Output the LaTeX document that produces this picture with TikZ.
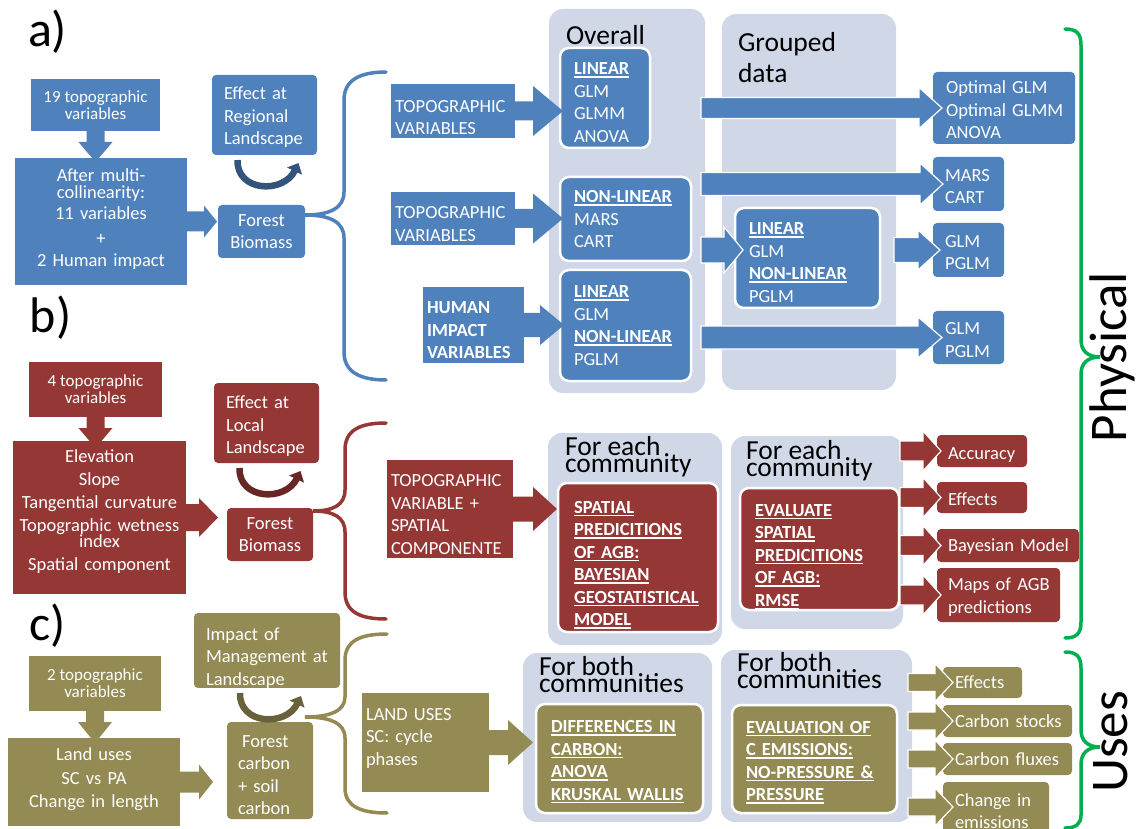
\documentclass[tikz,border=0pt]{standalone}
\usepackage{fontspec}
\setmainfont{Carlito}
\usetikzlibrary{calc,arrows.meta}

\definecolor{sblue}{HTML}{4F81BD}
\definecolor{sred}{HTML}{953735}
\definecolor{solive}{HTML}{948A54}
\definecolor{panelgray}{HTML}{D0D8E8}
\definecolor{bracegreen}{HTML}{00B050}

\newcommand\fsS{\fontsize{17}{17}\selectfont}
\newcommand\fsM{\fontsize{18.5}{22.5}\selectfont}
\newcommand\fsT{\fontsize{27.5}{17}\selectfont\lineskiplimit=-100pt}
\newcommand\fsL{\fontsize{50}{50}\selectfont}
\newcommand\fsXL{\fontsize{53}{53}\selectfont}

% bold heading with a thick underline
\newsavebox\hdbox
\newcommand\hd[1]{\leavevmode\sbox\hdbox{\textbf{#1}}\rlap{\rule[-3pt]{\wd\hdbox}{1.5pt}}\usebox\hdbox}
% invisible struts that set the height of a first line / the depth of a last line
\newcommand\tgap[1]{\rule{0pt}{#1}}
\newcommand\tlift[1]{\rule[-#1]{0pt}{#1}}

% box placed by its corners: style, name, x1, y1, x2, y2
\newcommand\bx[6]{\node[#1, minimum width={(#5)-(#3)}, minimum height={(#6)-(#4)}] (#2) at ({(#3+#5)/2},{(#4+#6)/2})}

% horizontal block arrow: style, tail, tip, shaft half width, head half width, head length
\newcommand\harrow[6]{\path[#1] let \p1=#2, \p2=#3 in
  (\x1,{\y2+#4pt}) -- ({\x2-#6pt},{\y2+#4pt}) -- ({\x2-#6pt},{\y2+#5pt}) -- (\x2,\y2)
  -- ({\x2-#6pt},{\y2-#5pt}) -- ({\x2-#6pt},{\y2-#4pt}) -- (\x1,{\y2-#4pt}) -- cycle;}

% downward block arrow: style, tail, tip, shaft half width, head half width, head length
\newcommand\varrow[6]{\path[#1] let \p1=#2, \p2=#3 in
  ({\x2-#4pt},\y1) -- ({\x2-#4pt},{\y2+#6pt}) -- ({\x2-#5pt},{\y2+#6pt}) -- (\x2,\y2)
  -- ({\x2+#5pt},{\y2+#6pt}) -- ({\x2+#4pt},{\y2+#6pt}) -- ({\x2+#4pt},\y1) -- cycle;}

% curved arrow under a box: colour, box name
\newcommand\loopunder[2]{\draw[loopback,#1] ($(#2.south)+(-27,5)$)
  .. controls ($(#2.south)+(-28,37)$) and ($(#2.south)+(19,39)$) .. ($(#2.south)+(34,8)$);}

\begin{document}
\begin{tikzpicture}[x=1pt,y=-1pt,
  every node/.style={inner sep=0pt, outer sep=0pt},
  blk/.style={rectangle, text=white, font=\fsM},
  rb/.style={blk, rounded corners=4pt},
  wb/.style={blk, rounded corners=9pt, draw=white, line width=2.5pt},
  pnl/.style={rectangle, fill=panelgray, rounded corners=14pt},
  ttl/.style={font=\fsT, align=left, text=black},
  lbl/.style={font=\fsL, text=black},
  side/.style={font=\fsXL, text=black, rotate=90},
  ol/.style={draw=white, line width=1.2pt},
  brace/.style={line width=3.5pt, line cap=round},
  loopback/.style={line width=6.5pt, -{Triangle[length=9pt,width=16pt]}},
]
\fill[white] (0,0) rectangle (1136,829);
\useasboundingbox (0,0) rectangle (1136,829);

% ---------- panels ----------
\bx{pnl}{ov}{549}{9}{705}{393}{};
\bx{pnl}{gr}{722}{14}{896}{390}{};
\bx{pnl}{pb1}{548}{433}{722}{645}{};
\bx{pnl}{pb2}{731}{436}{903}{629}{};
\bx{pnl}{pc1}{523}{653}{712}{822}{};
\bx{pnl}{pc2}{721}{650}{912}{822}{};
\node[ttl,anchor=base west] (tov) at (566,45) {Overall};
\node[ttl,font=\fontsize{27.5}{31}\selectfont,anchor=base west] (tgr) at (738,83) {Grouped\\data};
\node[ttl,anchor=base west] (tb1) at (565,472) {For each\\community};
\node[ttl,anchor=base west] (tb2) at (746,476) {For each\\community};
\node[ttl,anchor=base west] (tc1) at (539,692) {For both\\communities};
\node[ttl,anchor=base west] (tc2) at (737,688) {For both\\communities};

% ---------- a) regional ----------
\bx{blk,fill=sblue,font=\fsS,align=center}{b19}{31}{79}{160}{131}{19 topographic\\variables};
\bx{blk,fill=sblue,align=center,text width=168pt}{b11}{15}{158}{187}{285}{After multi-\\[-5.5pt]collinearity:\\[-1pt]11 variables\\[2pt]+\\[-0.5pt]2 Human impact\tlift{8pt}};
\bx{rb,fill=sblue,align=center}{fb}{218}{205}{305}{258}{Forest\\Biomass};
\bx{rb,fill=sblue,align=left,text width=81pt}{eff}{212}{75}{317}{155}{\tgap{17pt}Effect~at\\Regional\\Landscape};
\bx{blk,fill=sblue,align=left,text width=116pt}{topo1}{391}{84}{515}{138}{\tgap{25pt}TOPOGRAPHIC\\VARIABLES};
\bx{blk,fill=sblue,align=left,text width=116pt}{topo2}{391}{192}{515}{245}{\tgap{23pt}TOPOGRAPHIC\\VARIABLES};
\bx{blk,fill=sblue,align=left,text width=93pt,font=\fsM\bfseries}{human}{423}{287}{524}{363}{\tgap{23pt}HUMAN\\IMPACT\\VARIABLES};
\bx{wb,fill=sblue,align=left,text width=62pt}{lin1}{560}{48}{650}{148}{\tgap{21pt}\hd{LINEAR}\\GLM\\GLMM\\ANOVA};
\bx{wb,fill=sblue,align=left,text width=103pt}{nl1}{560}{177}{691}{261}{\hd{NON-LINEAR}\\MARS\\CART};
\bx{wb,fill=sblue,align=left,text width=103pt}{hl1}{560}{270}{691}{381}{\hd{LINEAR}\\GLM\\\hd{NON-LINEAR}\\PGLM};
\bx{wb,fill=sblue,align=left,text width=117pt}{gl}{735}{208}{880}{308}{\tgap{21pt}\hd{LINEAR}\\GLM\\\hd{NON-LINEAR}\\PGLM};
\bx{rb,fill=sblue,align=left,text width=116pt}{opt1}{933}{72}{1075}{144}{\tgap{17pt}Optimal~GLM\\Optimal~GLMM\\ANOVA};
\bx{rb,fill=sblue,align=left,text width=47pt}{mc}{933}{157}{1004}{211}{\tgap{17pt}MARS\\CART};
\bx{rb,fill=sblue,align=left,text width=47pt}{g1}{933}{223}{1004}{277}{\tgap{17pt}GLM\\PGLM};
\bx{rb,fill=sblue,align=left,text width=47pt}{g2}{933}{311}{1004}{364}{\tgap{17pt}GLM\\PGLM};

\coordinate (a1) at ($(b11.north)+(0,4)$);
\varrow{fill=sblue}{(b19.south)}{(b19.south |- a1)}{9}{17}{20}
\harrow{fill=sblue}{(b11.east)}{($(fb.west |- b11.east)+(-1,0)$)}{10}{16}{13}
\harrow{fill=sblue}{(topo1.east)}{($(lin1.west |- topo1.east)+(3,0)$)}{9.5}{25}{30}
\harrow{fill=sblue}{(topo2.east)}{($(nl1.west |- topo2.east)+(3,0)$)}{9.5}{25}{30}
\harrow{fill=sblue}{(human.east)}{($(hl1.west |- human.east)+(4,0)$)}{12}{20}{24}
\harrow{fill=sblue,ol}{($(ov.east |- opt1.west)+(-4,0)$)}{($(opt1.west)+(9,0)$)}{10.5}{20.5}{23}
\harrow{fill=sblue,ol}{($(ov.east |- mc.west)+(-4,0)$)}{($(mc.west)+(10,0)$)}{11.5}{21}{23}
\harrow{fill=sblue,ol}{($(ov.east |- gl.west)+(-4,-8)$)}{($(gl.west)+(8,-8)$)}{13}{23}{19}
\harrow{fill=sblue,ol}{($(gr.east |- g1.west)+(-2,0)$)}{($(g1.west)+(7,0)$)}{12.5}{20}{22}
\harrow{fill=sblue,ol}{($(ov.east |- g2.west)+(-4,0)$)}{($(g2.west)+(9,0)$)}{11.5}{20.5}{24}
\loopunder{sblue!65!black}{eff}
\draw[brace, sblue] (386,72) .. controls (360,72) and (344,80) .. (344,100) -- (344,192)
  .. controls (344,208) and (330,215) .. (305,215) .. controls (330,215) and (344,222) .. (344,238)
  -- (344,352) .. controls (344,372) and (360,380) .. (386,380);

% ---------- b) local ----------
\bx{blk,fill=sred,font=\fsS,align=center}{b4}{29}{362}{162}{417}{4 topographic\\variables};
\bx{blk,fill=sred,align=center,text width=170pt,font=\fontsize{18.5}{23}\selectfont}{elev}{13}{441}{186}{594}{Elevation\\Slope\\Tangential curvature\\Topographic wetness\\[-7pt]index\\Spatial component\tlift{14pt}};
\bx{rb,fill=sred,align=center}{fb2}{227}{508}{313}{561}{Forest\\Biomass};
\bx{rb,fill=sred,align=left,text width=81pt}{eff2}{214}{383}{319}{463}{\tgap{19pt}Effect~at\\Local\\Landscape};
\bx{blk,fill=sred,align=left,text width=118pt}{tv}{387}{460}{513}{558}{\tgap{23pt}TOPOGRAPHIC\\VARIABLE~+\\SPATIAL\\COMPONENTE};
\bx{wb,fill=sred,align=left,text width=128pt}{sp}{558}{483}{718}{632}{\tgap{27pt}\hd{SPATIAL}\\\hd{PREDICITIONS}\\\hd{OF AGB:}\\\hd{BAYESIAN}\\\hd{GEOSTATISTICAL}\\\hd{MODEL}};
\bx{wb,fill=sred,align=left,text width=129pt}{ev}{740}{488}{899}{610}{\tgap{27pt}\hd{EVALUATE}\\\hd{SPATIAL}\\\hd{PREDICITIONS}\\\hd{OF AGB:}\\\hd{RMSE}};
\bx{rb,fill=sred,align=left,text width=68pt}{acc}{937}{435}{1027}{467}{\tgap{19pt}Accuracy};
\bx{rb,fill=sred,align=left,text width=68pt}{effb}{937}{482}{1027}{513}{\tgap{17pt}Effects};
\bx{rb,fill=sred,align=left,text width=120pt}{bay}{937}{529}{1079}{562}{\tgap{15pt}Bayesian~Model};
\bx{rb,fill=sred,align=left,text width=101pt}{maps}{937}{568}{1060}{622}{\tgap{17pt}Maps~of~AGB\\predictions};

\coordinate (b1) at ($(elev.north)+(0,7)$);
\varrow{fill=sred}{(b4.south)}{(b4.south |- b1)}{9}{17}{20}
\harrow{fill=sred}{(elev.east)}{($(fb2.west |- elev.east)+(-9,0)$)}{13.5}{19.5}{19}
\harrow{fill=sred}{(tv.east)}{($(sp.west |- tv.east)+(-1,0)$)}{12.5}{22}{24}
\harrow{fill=sred,ol}{($(pb2.east |- acc.west)+(-3,0)$)}{($(acc.west)+(4,0)$)}{10}{20}{18}
\harrow{fill=sred,ol}{($(pb2.east |- effb.west)+(-3,0)$)}{($(effb.west)+(4,0)$)}{10}{20}{18}
\harrow{fill=sred,ol}{($(pb2.east |- bay.west)+(-3,0)$)}{($(bay.west)+(4,0)$)}{10}{20}{18}
\harrow{fill=sred,ol}{($(pb2.east |- maps.west)+(-3,0)$)}{($(maps.west)+(4,0)$)}{10}{20}{18}
\loopunder{sred!70!black}{eff2}
\draw[brace, sred] (386,423) .. controls (360,423) and (345,430) .. (345,450) -- (345,490)
  .. controls (345,505) and (333,511) .. (313,511) .. controls (333,511) and (345,517) .. (345,532)
  -- (345,592) .. controls (345,612) and (360,619) .. (386,619);

% ---------- c) uses ----------
\bx{blk,fill=solive,font=\fsS,align=center}{c2}{29}{656}{161}{711}{2 topographic\\variables};
\bx{blk,fill=solive,align=center,text width=168pt,font=\fontsize{18.5}{23.5}\selectfont}{lu}{8}{738}{180}{826}{Land uses\\SC vs PA\\Change in length\tlift{8pt}};
\bx{rb,fill=solive,align=left,text width=64pt}{fc}{227}{722}{313}{819}{\tgap{21pt}\hspace*{4pt}Forest\\carbon\\+~soil\\carbon};
\bx{rb,fill=solive,align=left,text width=122pt}{imp}{194}{614}{340}{687}{\tgap{27pt}Impact~of\\Management~at\\Landscape};
\bx{blk,fill=solive,align=left,text width=119pt}{lus}{362}{693}{489}{792}{LAND~USES\\SC:~cycle\\phases\tlift{12pt}};
\bx{wb,fill=solive,align=left,text width=137pt}{diff}{536}{704}{703}{813}{\tgap{19pt}\hd{DIFFERENCES IN}\\\hd{CARBON:}\\\hd{ANOVA}\\\hd{KRUSKAL WALLIS}};
\bx{wb,fill=solive,align=left,text width=137pt}{evc}{732}{705}{897}{813}{\tgap{19pt}\hd{EVALUATION OF}\\\hd{C EMISSIONS:}\\\hd{NO-PRESSURE \&}\\\hd{PRESSURE}};
\bx{rb,fill=solive,align=left,text width=55pt}{effc}{943}{667}{1022}{698}{Effects};
\bx{rb,fill=solive,align=left,text width=105pt}{cs}{943}{705}{1072}{737}{Carbon~stocks};
\bx{rb,fill=solive,align=left,text width=105pt}{cf}{943}{743}{1072}{775}{Carbon~fluxes};
\bx{rb,fill=solive,align=left,text width=82pt}{ce}{943}{782}{1049}{840}{Change~in\\emissions};

\coordinate (c1) at ($(lu.north)+(0,5)$);
\varrow{fill=solive}{(c2.south)}{(c2.south |- c1)}{9}{17}{21}
\harrow{fill=solive}{(lu.east)}{($(fc.west |- lu.east)+(-14,0)$)}{10.5}{17.5}{14}
\harrow{fill=solive}{(lus.east)}{($(diff.west |- lus.east)+(-3,0)$)}{12.5}{22.5}{25}
\harrow{fill=solive,ol}{($(pc2.east |- effc.west)+(-4,0)$)}{($(effc.west)+(10,0)$)}{9}{19}{18}
\harrow{fill=solive,ol}{($(pc2.east |- cs.west)+(-4,0)$)}{($(cs.west)+(10,0)$)}{9}{19}{18}
\harrow{fill=solive,ol}{($(pc2.east |- cf.west)+(-4,0)$)}{($(cf.west)+(10,0)$)}{9}{19}{18}
\harrow{fill=solive,ol}{($(pc2.east |- ce.west)+(-4,0)$)}{($(ce.west)+(10,-4)$)}{9}{19}{18}
\loopunder{solive!70!black}{imp}
\draw[brace, solive] (387,634) .. controls (360,634) and (345,641) .. (345,660) -- (345,697)
  .. controls (345,711) and (330,717) .. (305,717) .. controls (330,717) and (345,723) .. (345,738)
  -- (345,788) .. controls (345,806) and (360,813) .. (387,813);

% ---------- side braces ----------
\draw[brace, bracegreen] (1065,29) .. controls (1076,29) and (1081,33) .. (1081,45) -- (1081,340)
  .. controls (1081,351) and (1088,357) .. (1100,357) .. controls (1088,357) and (1081,363) .. (1081,374)
  -- (1081,622) .. controls (1081,634) and (1076,638) .. (1065,638);
\draw[brace, bracegreen] (1065,652) .. controls (1076,652) and (1081,656) .. (1081,668) -- (1081,730)
  .. controls (1081,741) and (1088,747) .. (1100,747) .. controls (1088,747) and (1081,753) .. (1081,764)
  -- (1081,815) .. controls (1081,824) and (1076,828) .. (1065,828);
\node[side,anchor=base] (phys) at (1126,357) {Physical};
\node[side,anchor=base] (uses) at (1127,742) {Uses};

% ---------- section labels ----------
\node[lbl,anchor=base west] (la) at (28,47) {a)};
\node[lbl,anchor=base west] (lb) at (30,333) {b)};
\node[lbl,anchor=base west] (lc) at (29,640) {c)};
\end{tikzpicture}
\end{document}
